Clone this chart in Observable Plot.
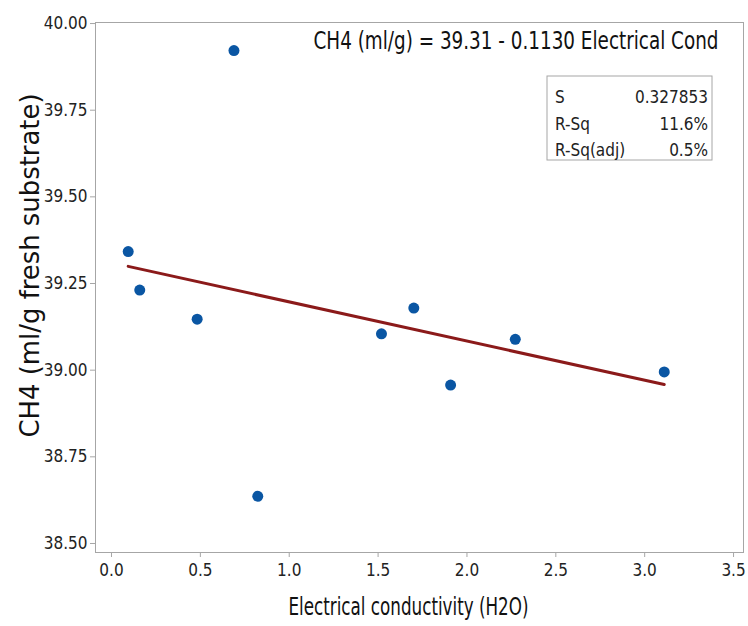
<!DOCTYPE html>
<html><head><meta charset="utf-8">
<script src="https://cdn.jsdelivr.net/npm/d3@7"></script>
<script src="https://cdn.jsdelivr.net/npm/@observablehq/plot@0.6"></script>
<style>body{margin:0;background:#fff}#chart{width:748px;height:626px}</style>
</head><body><div id="chart"></div>
<script>
// ---- data ----
const conductivity = [0.094, 0.159, 0.482, 0.689, 0.823, 1.519, 1.701, 1.908, 2.272, 3.110];
const ch4 = [39.342, 39.231, 39.147, 39.922, 38.636, 39.105, 39.179, 38.957, 39.089, 38.995];
const intercept = 39.31;
const slope = -0.1130;
const xTicks = [0, 0.5, 1, 1.5, 2, 2.5, 3, 3.5];
const yTicks = [38.5, 38.75, 39, 39.25, 39.5, 39.75, 40];
const equation = "CH4 (ml/g) = 39.31 - 0.1130 Electrical Cond";
const statLabels = ["S", "R-Sq", "R-Sq(adj)"];
const statValues = ["0.327853", "11.6%", "0.5%"];
const xLabel = "Electrical conductivity (H2O)";
const yLabel = "CH4 (ml/g fresh substrate)";

const points = conductivity.map((x, i) => ({x, y: ch4[i]}));
const fit = d3.extent(conductivity).map(x => ({x, y: intercept + slope * x}));
const font = "'Liberation Sans Narrow','DejaVu Sans Condensed','Arial Narrow',sans-serif";

const plot = Plot.plot({
  width: 748, height: 626,
  marginLeft: 95, marginRight: 5, marginTop: 22, marginBottom: 74,
  style: {fontFamily: font, fontSize: "17px", color: "#222", background: "#fff"},
  x: {domain: [-0.09, 3.556]},
  y: {domain: [38.474, 40.003]},
  marks: [
    Plot.frame({stroke: "#a6a6a6"}),
    Plot.axisX({ticks: xTicks, tickFormat: d3.format(".1f"), tickSize: 5, tickPadding: 6, stroke: "#a6a6a6", fill: "#222", label: null, fontSize: 17}),
    Plot.axisY({ticks: yTicks, tickFormat: d3.format(".2f"), tickSize: 5, tickPadding: 3, stroke: "#a6a6a6", fill: "#222", label: null, fontSize: 17}),
    Plot.line(fit, {x: "x", y: "y", stroke: "#8b1a1a", strokeWidth: 3}),
    Plot.dot(points, {x: "x", y: "y", r: 5.5, fill: "#0a56a3", stroke: "none"}),
    Plot.text([equation], {frameAnchor: "top-right", text: d => d, dx: -25, dy: 18, textAnchor: "end", lineAnchor: "middle", fontSize: 25, fill: "#111"}),
    Plot.text([xLabel], {frameAnchor: "bottom", text: d => d, dx: -11, dy: 54, textAnchor: "middle", lineAnchor: "middle", fontSize: 25, fill: "#111"}),
    Plot.text([yLabel], {frameAnchor: "left", text: d => d, dx: -65, dy: -22, rotate: -90, textAnchor: "middle", lineAnchor: "middle", fontSize: 26, fill: "#111"})
  ]
});
document.getElementById("chart").appendChild(plot);

const svg = d3.select(plot);
// squeeze the long texts to the reference's condensed widths
const widths = new Map([[equation, 405], [xLabel, 240], [yLabel, 344]]);
svg.selectAll("text").each(function () {
  const w = widths.get(this.textContent);
  if (w) d3.select(this).attr("textLength", w).attr("lengthAdjust", "spacingAndGlyphs");
});

// statistics box (top-right inside the frame)
const frameRight = 748 - 5, frameTop = 22;
const g = svg.append("g").attr("font-family", font).attr("font-size", 17).attr("fill", "#222");
g.append("rect").attr("x", frameRight - 196).attr("y", frameTop + 54).attr("width", 165).attr("height", 84)
  .attr("fill", "#fff").attr("stroke", "#a6a6a6");
statLabels.forEach((lab, i) => {
  g.append("text").attr("x", frameRight - 188).attr("y", frameTop + 81 + i * 26.5).attr("text-anchor", "start").text(lab);
  g.append("text").attr("x", frameRight - 35).attr("y", frameTop + 81 + i * 26.5).attr("text-anchor", "end").text(statValues[i]);
});
</script></body></html>
